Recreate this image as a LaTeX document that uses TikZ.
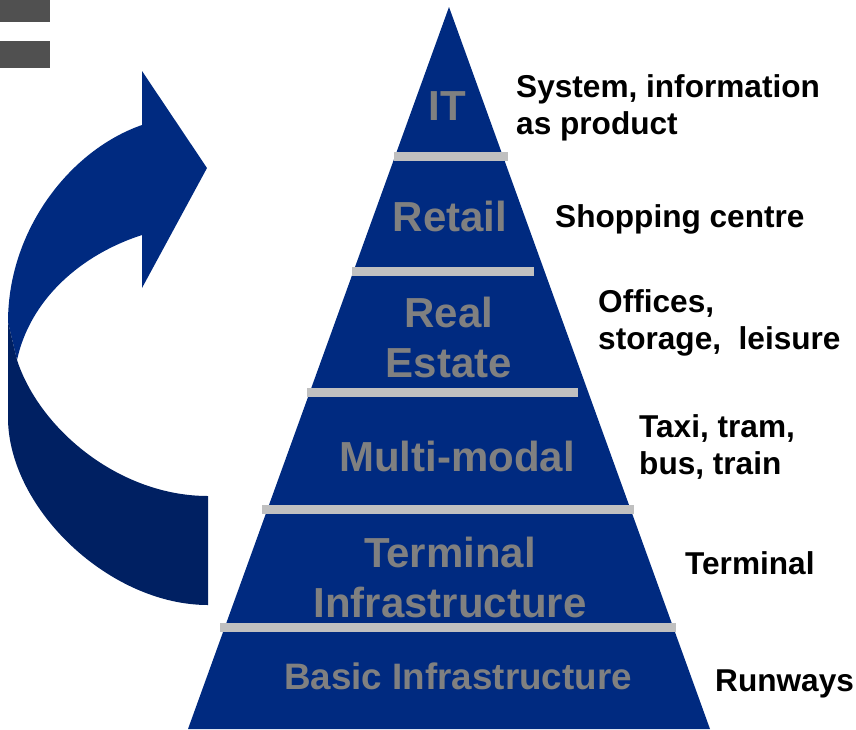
\documentclass[tikz,border=0pt]{standalone}
\usepackage{fontspec}
\setmainfont{Liberation Sans}
\definecolor{pyrblue}{RGB}{0,42,128}
\definecolor{darkblue}{RGB}{0,32,98}
\definecolor{bargray}{RGB}{192,192,192}
\definecolor{labgray}{RGB}{128,128,128}
\definecolor{boxgray}{RGB}{80,80,80}
\begin{document}
\begin{tikzpicture}[x=1pt,y=-1pt,
  layer/.style={text=labgray, font=\bfseries\fontsize{42}{50}\selectfont, align=center, inner sep=0, anchor=base},
  note/.style={text=black, font=\bfseries\fontsize{31.6}{37}\selectfont, align=left, inner sep=0, anchor=base west},
  sepbar/.style={fill=bargray, draw=none},
  greybox/.style={fill=boxgray, draw=none}]
\useasboundingbox (0,0) rectangle (856,729);
% top-left grey boxes
\fill[greybox] (0,0) rectangle (50,22);
\fill[greybox] (0,41) rectangle (50,68);
% curved arrow: light upper part with head
\fill[pyrblue] (142,125) -- (142,71) -- (207,168) -- (142,288) -- (142,235)
  .. controls (80,255) and (30,300) .. (17,360) -- (8,322)
  .. controls (8,230) and (70,150) .. (142,125) -- cycle;
% dark lower part
\fill[darkblue] (8,322) -- (17,360)
  .. controls (40,430) and (120,496) .. (208,496) -- (208,605)
  .. controls (110,605) and (10,510) .. (8,420) -- cycle;
% pyramid
\fill[pyrblue] (449,7) -- (710,729) -- (188,729) -- cycle;
% separator bars
\fill[sepbar] (394,152) rectangle (508,161);
\fill[sepbar] (352,267) rectangle (534,276);
\fill[sepbar] (307,388) rectangle (578,397);
\fill[sepbar] (262,505) rectangle (634,514);
\fill[sepbar] (220,623) rectangle (676,632);
% layer labels (base = baseline of last line)
\node[layer] (it) at (447,120) {IT};
\node[layer] (retail) at (450,231) {Retail};
\node[layer] (realestate) at (449,377) {Real\\Estate};
\node[layer] (multimodal) at (457,471) {Multi-modal};
\node[layer] (terminal) at (450,617) {Terminal\\Infrastructure};
\node[layer, font=\bfseries\fontsize{36.8}{42}\selectfont] (basic) at (458,689) {Basic Infrastructure};
% notes
\node[note] (n1) at (516,134) {System, information\\as product};
\node[note] (n2) at (555,227) {Shopping centre};
\node[note] (n3) at (598,349) {Offices,\\storage,~ leisure};
\node[note] (n4) at (639,474) {Taxi, tram,\\bus, train};
\node[note] (n5) at (685,574) {Terminal};
\node[note] (n6) at (715,691) {Runways};
\end{tikzpicture}
\end{document}
